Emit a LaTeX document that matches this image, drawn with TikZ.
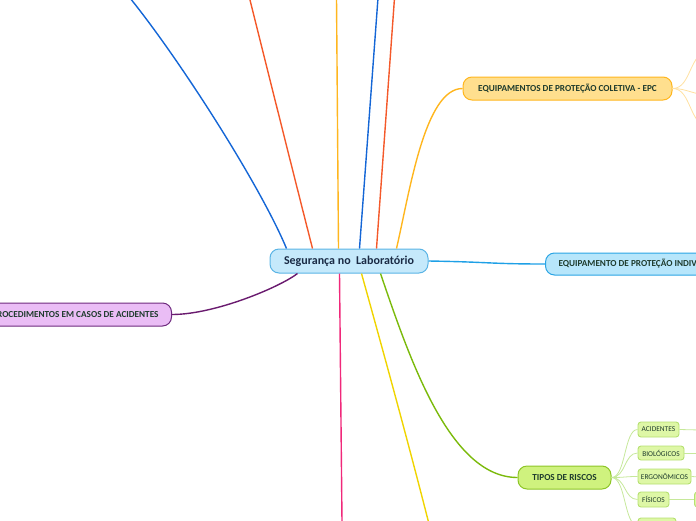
\documentclass[tikz,border=0pt]{standalone}
\usepackage{fontspec}
\setmainfont{Carlito}
\definecolor{txt}{HTML}{1E3B2D}
\definecolor{ctxt}{HTML}{1A2B45}
\definecolor{cfill}{HTML}{C5E9FB}
\definecolor{cdraw}{HTML}{5AB4E5}
\definecolor{epcfill}{HTML}{FFDF8E}
\definecolor{epcdraw}{HTML}{FFB61E}
\definecolor{epifill}{HTML}{B7E6FB}
\definecolor{epidraw}{HTML}{2AA4E4}
\definecolor{procfill}{HTML}{EABDF5}
\definecolor{procdraw}{HTML}{6E2A7E}
\definecolor{tfill}{HTML}{CFF27E}
\definecolor{tdraw}{HTML}{8DC527}
\definecolor{sfill}{HTML}{DEF7A6}
\definecolor{sdraw}{HTML}{B5E070}
\definecolor{lblue}{HTML}{1466D6}
\definecolor{lred}{HTML}{F4592A}
\definecolor{lorange}{HTML}{FFB61E}
\definecolor{lepi}{HTML}{1EA0E6}
\definecolor{lpurple}{HTML}{6A1B6F}
\definecolor{lpink}{HTML}{F0287A}
\definecolor{lyellow}{HTML}{F0D400}
\definecolor{lgreen}{HTML}{7BBA0B}
\definecolor{lsgreen}{HTML}{C6E89A}
\definecolor{lsorange}{HTML}{FFE0A0}
\tikzset{
  box/.style={draw, rounded corners=9pt, line width=1pt, inner sep=0pt, text=txt, font=\bfseries\fontsize{9.2}{10}\selectfont},
  subbox/.style={draw=sdraw, fill=sfill, rounded corners=3pt, line width=0.9pt, inner sep=0pt, text=txt, font=\fontsize{7.4}{8}\selectfont},
  br/.style={line width=1.4pt},
  sbr/.style={line width=0.8pt}
}
\begin{document}
\begin{tikzpicture}[x=1pt,y=-1pt]
\useasboundingbox (0,0) rectangle (696,520);
\clip (0,0) rectangle (696,520);
% nodes
\node[box, draw=cdraw, fill=cfill, text=ctxt, minimum width=158pt, minimum height=24pt, font=\bfseries\fontsize{12}{14}\selectfont] (c) at (349,261) {Segurança no\ \ Laboratório};
\node[box, draw=epcdraw, fill=epcfill, minimum width=209pt, minimum height=23pt] (epc) at (567.5,88.5) {EQUIPAMENTOS DE PROTEÇÃO COLETIVA - EPC};
\node[box, draw=epidraw, fill=epifill, minimum height=22pt, inner xsep=13pt, anchor=west] (epi) at (545,264) {EQUIPAMENTO DE PROTEÇÃO INDIVIDUAL - EPI};
\node[box, draw=procdraw, fill=procfill, minimum height=23pt, inner xsep=13pt, anchor=east] (proc) at (172,314.5) {PROCEDIMENTOS EM CASOS DE ACIDENTES};
\node[box, draw=tdraw, fill=tfill, minimum width=93pt, minimum height=23pt] (tipos) at (564.5,477.5) {TIPOS DE RISCOS};
\node[subbox, minimum width=41pt, minimum height=15pt] (s1) at (658.5,429.5) {ACIDENTES};
\node[subbox, minimum width=46pt, minimum height=14pt] (s2) at (661,453) {BIOLÓGICOS};
\node[subbox, minimum width=53pt, minimum height=15pt] (s3) at (664.5,476.5) {ERGONÔMICOS};
\node[subbox, minimum width=31pt, minimum height=15pt] (s4) at (653.5,499.5) {FÍSICOS};
\node[subbox, minimum width=38pt, minimum height=15pt] (s5) at (657,525.5) {};
\node[subbox, minimum width=30pt, minimum height=15pt, anchor=west] (s41) at (694,499.5) {};
% free ends
\coordinate (t1) at (130,-2);
\coordinate (t2) at (249.5,-2);
\coordinate (t3) at (336.5,-2);
\coordinate (t4) at (378,-2);
\coordinate (t5) at (394.5,-2);
\coordinate (b1) at (342,522);
\coordinate (b2) at (428.5,522);
\coordinate (e1) at (712,48);
\coordinate (e2) at (712,95);
\coordinate (e3) at (712,130);
\coordinate (r1) at (700,430);
\coordinate (r2) at (700,453);
\coordinate (r3) at (700,477);
% main branches
\draw[br, lblue] (c.north west) ++(17,0) .. controls (260,185) and (180,60) .. (t1);
\draw[br, lred] (c.north west) ++(43,0) .. controls (295,180) and (270,80) .. (t2);
\draw[br, lorange] (c.north west) ++(69,0) -- (t3);
\draw[br, lblue] (c.north west) ++(90,0) -- (t4);
\draw[br, lred] (c.north west) ++(107,0) -- (t5);
\draw[br, lorange] (c.north west) ++(127,0) .. controls (410,190) and (425,88.5) .. (epc.west);
\draw[br, lepi] (c.east) .. controls (490,262) and (490,264) .. (epi.west);
\draw[br, lpurple] (c.south west) ++(28,0) .. controls (280,287) and (215,314.5) .. (proc.east);
\draw[br, lpink] (c.south west) ++(70,0) -- (b1);
\draw[br, lyellow] (c.south west) ++(92,0) .. controls (380,340) and (405,430) .. (b2);
\draw[br, lgreen] (c.south west) ++(111,0) .. controls (410,360) and (450,477.5) .. (tipos.west);
% EPC children
\draw[sbr, lsorange] (epc.east) .. controls (692,88.5) and (688,52) .. (e1);
\draw[sbr, lsorange] (epc.east) .. controls (688,88.5) and (692,95) .. (e2);
\draw[sbr, lsorange] (epc.east) .. controls (692,88.5) and (688,126) .. (e3);
% tipos children
\foreach \s in {s1,s2,s3,s4,s5}
  \draw[sbr, lsgreen] (tipos.east) .. controls (626,477.5) and (624,0|-\s.west) .. (\s.west);
\draw[sbr, lsgreen] (s1.east) -- (r1);
\draw[sbr, lsgreen] (s2.east) -- (r2);
\draw[sbr, lsgreen] (s3.east) -- (r3);
\draw[sbr, lsgreen] (s4.east) -- (s41.west);
\end{tikzpicture}
\end{document}
